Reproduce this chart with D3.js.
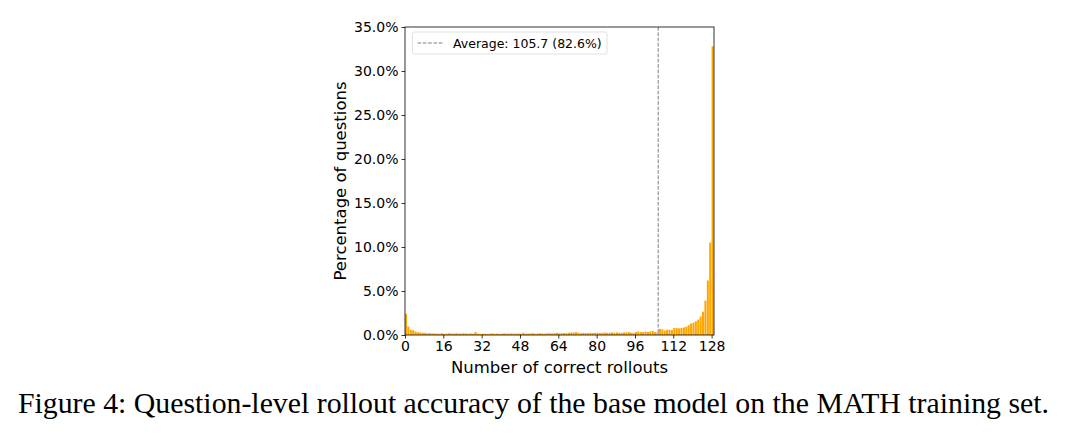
<!DOCTYPE html>
<html>
<head>
<meta charset="utf-8">
<script src="https://cdn.jsdelivr.net/npm/d3@7"></script>
<style>
  body { margin: 0; background: #fff; }
  svg text { font-family: "DejaVu Sans", sans-serif; }
  .caption { font-family: "Liberation Serif", "Times New Roman", serif !important; }
</style>
</head>
<body>
<div id="chart"></div>
<script>
// percentage of questions per number of correct rollouts (0..128)
const counts = d3.range(0, 129);
const percents = [
  2.4, 0.95, 0.6, 0.55, 0.4, 0.3, 0.3, 0.25, 0.25, 0.2,
  0.2, 0.18, 0.18, 0.15, 0.15, 0.2, 0.15, 0.15, 0.2, 0.18,
  0.15, 0.2, 0.18, 0.15, 0.2, 0.18, 0.15, 0.18, 0.15, 0.35,
  0.15, 0.12, 0.15, 0.15, 0.12, 0.15, 0.18, 0.15, 0.15, 0.12,
  0.15, 0.18, 0.15, 0.15, 0.18, 0.15, 0.15, 0.18, 0.15, 0.25,
  0.15, 0.15, 0.18, 0.2, 0.15, 0.18, 0.2, 0.18, 0.15, 0.2,
  0.2, 0.18, 0.2, 0.25, 0.2, 0.2, 0.22, 0.2, 0.25, 0.3,
  0.28, 0.35, 0.25, 0.2, 0.25, 0.22, 0.2, 0.25, 0.22, 0.25,
  0.25, 0.22, 0.25, 0.28, 0.25, 0.25, 0.3, 0.25, 0.3, 0.25,
  0.25, 0.3, 0.3, 0.35, 0.25, 0.25, 0.35, 0.4, 0.35, 0.35,
  0.4, 0.35, 0.4, 0.45, 0.35, 0.3, 0.7, 0.65, 0.5, 0.6,
  0.6, 0.55, 0.8, 0.8, 0.75, 0.8, 0.85, 0.95, 1.1, 1.3,
  1.4, 1.55, 1.75, 2.1, 2.65, 3.9, 6.2, 10.5, 32.8
];
const xTicks = [0, 16, 32, 48, 64, 80, 96, 112, 128];
const yTicks = [0, 5, 10, 15, 20, 25, 30, 35];
const average = 105.7;
const averageLabel = 'Average: 105.7 (82.6%)';
const caption = 'Figure 4: Question-level rollout accuracy of the base model on the MATH training set.';

var margin = {top: 27, right: 352, bottom: 99, left: 405},
    width = 1066 - margin.left - margin.right,
    height = 434 - margin.top - margin.bottom;

const root = d3.select('#chart')
    .append('svg')
    .attr('width', 1066)
    .attr('height', 434);

const svg = root.append('g')
    .attr('transform', 'translate(' + margin.left + ',' + margin.top + ')');

const xScale = d3.scaleLinear()
    .domain([0, 129])
    .range([0, width]);

const yScale = d3.scaleLinear()
    .domain([0, 35])
    .range([height, 0]);

const data = counts.map((c, i) => ({c: c, p: percents[i]}));

svg.selectAll('.bars')
    .data(data)
    .enter()
    .append('rect')
    .attr('class', 'bars')
    .attr('x', d => xScale(d.c))
    .attr('width', d => Math.max(0, xScale(d.c + 1) - xScale(d.c) - 0.35))
    .attr('y', d => yScale(d.p))
    .attr('height', d => height - yScale(d.p))
    .attr('fill', '#ffa500');

// average line
svg.append('line')
    .attr('x1', xScale(average))
    .attr('x2', xScale(average))
    .attr('y1', 0)
    .attr('y2', height)
    .attr('stroke', '#7f7f7f')
    .attr('stroke-width', 1)
    .attr('stroke-dasharray', '3.7,1.6');

const xAxis = d3.axisBottom(xScale)
    .tickValues(xTicks)
    .tickSize(3.5)
    .tickPadding(2.5)
    .tickFormat(d3.format('d'));

const yAxis = d3.axisLeft(yScale)
    .tickValues(yTicks)
    .tickSize(3.5)
    .tickPadding(3)
    .tickFormat(d => d.toFixed(1) + '%');

svg.append('g')
    .attr('class', 'x-axis')
    .attr('transform', `translate(0, ${height})`)
    .call(xAxis);

svg.append('g')
    .attr('class', 'y-axis')
    .call(yAxis);

svg.selectAll('.x-axis text, .y-axis text')
    .attr('font-size', 14)
    .attr('fill', '#000')
    .style('font-family', '"DejaVu Sans", sans-serif');
svg.selectAll('.domain').remove();
svg.selectAll('.tick line').attr('stroke', '#000').attr('stroke-width', 0.8);

// frame
svg.append('rect')
    .attr('width', width)
    .attr('height', height)
    .attr('fill', 'none')
    .attr('stroke', '#000')
    .attr('stroke-width', 0.8);

svg.append('text')
    .attr('x', width / 2)
    .attr('y', height + 38)
    .attr('text-anchor', 'middle')
    .attr('font-size', 16.5)
    .text('Number of correct rollouts');

svg.append('text')
    .attr('transform', 'rotate(-90)')
    .attr('x', -height / 2)
    .attr('y', -59)
    .attr('text-anchor', 'middle')
    .attr('font-size', 16.5)
    .text('Percentage of questions');

// legend
const legend = svg.append('g')
    .attr('transform', 'translate(7.5, 5)');
legend.append('rect')
    .attr('width', 194.5)
    .attr('height', 22)
    .attr('rx', 2)
    .attr('fill', '#fff')
    .attr('fill-opacity', 0.8)
    .attr('stroke', '#d9d9d9')
    .attr('stroke-width', 0.8);
legend.append('line')
    .attr('x1', 5)
    .attr('x2', 30)
    .attr('y1', 11)
    .attr('y2', 11)
    .attr('stroke', '#7f7f7f')
    .attr('stroke-width', 1)
    .attr('stroke-dasharray', '3.7,1.6');
legend.append('text')
    .attr('x', 40.5)
    .attr('y', 15.5)
    .attr('font-size', 12.5)
    .text(averageLabel);

root.append('text')
    .attr('class', 'caption')
    .attr('x', 533.5)
    .attr('y', 413)
    .attr('text-anchor', 'middle')
    .attr('font-size', 29.8)
    .text(caption);
</script>
</body>
</html>
